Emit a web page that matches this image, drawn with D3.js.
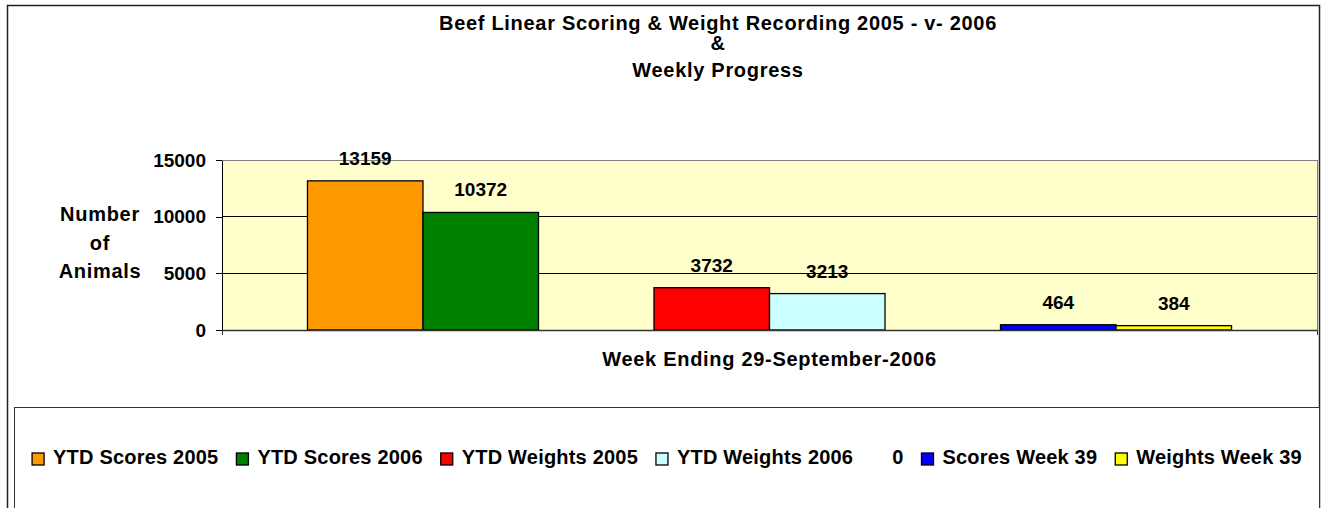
<!DOCTYPE html>
<html lang="en">
<head>
<meta charset="UTF-8">
<title>Beef Linear Scoring &amp; Weight Recording 2005 - v- 2006</title>
<script src="https://d3js.org/d3.v7.min.js"></script>
<style>
  body { margin: 0; background: #fff; }
  svg { display: block; font-family: 'Liberation Sans', Arial, sans-serif; font-weight: bold; font-size: 19px; }
  .spaced { font-size: 20px; letter-spacing: 0.7px; }
</style>
</head>
<body>
<svg id="chart" width="1324" height="508"></svg>
<script>
  // one category, eight series slots (a blank one and "0" are empty)
  const seriesNames = ['YTD Scores 2005', 'YTD Scores 2006', '', 'YTD Weights 2005', 'YTD Weights 2006', '0', 'Scores Week 39', 'Weights Week 39'];
  const seriesValues = [13159, 10372, null, 3732, 3213, null, 464, 384];
  const seriesColors = ['#ff9900', '#008000', 'none', '#ff0000', '#ccffff', 'none', '#0000ff', '#ffff00'];
  const yTicks = [0, 5000, 10000, 15000];
  const titleLines = ['Beef Linear Scoring & Weight Recording 2005 - v- 2006', '&', 'Weekly Progress'];
  const yTitleLines = ['Number', 'of', 'Animals'];
  const xTitle = 'Week Ending 29-September-2006';

  const svg = d3.select('#chart');
  const plot = { left: 222, right: 1317, top: 160, bottom: 330 };

  // outer chart frame
  svg.append('rect')
    .attr('x', 7.5).attr('y', 5.5)
    .attr('width', 1312).attr('height', 600)
    .attr('fill', '#fff').attr('stroke', '#222').attr('stroke-width', 1.5);

  const x = d3.scaleBand()
    .domain(d3.range(seriesNames.length))
    .range([plot.left, plot.right])
    .paddingInner(0)
    .paddingOuter(0.74);

  const y = d3.scaleLinear()
    .domain([0, 15000])
    .range([plot.bottom, plot.top]);

  // plot area background
  svg.append('rect')
    .attr('x', plot.left).attr('y', plot.top)
    .attr('width', plot.right - plot.left).attr('height', plot.bottom - plot.top)
    .attr('fill', '#ffffcc').attr('stroke', '#808080').attr('stroke-width', 1)
    .attr('shape-rendering', 'crispEdges');

  // gridlines
  svg.append('g')
    .selectAll('line')
    .data(yTicks.filter(t => t > 0 && t < 15000))
    .enter().append('line')
    .attr('x1', plot.left).attr('x2', plot.right)
    .attr('y1', d => y(d)).attr('y2', d => y(d))
    .attr('stroke', '#000').attr('shape-rendering', 'crispEdges');

  // y axis
  const yAxis = svg.append('g')
    .attr('transform', 'translate(' + plot.left + ',0)')
    .call(d3.axisLeft(y).tickValues(yTicks).tickFormat(d3.format('d'))
      .tickSize(6).tickSizeOuter(0).tickPadding(10));
  yAxis.select('.domain').attr('stroke', '#000').attr('shape-rendering', 'crispEdges');
  yAxis.selectAll('.tick line').attr('stroke', '#000').attr('shape-rendering', 'crispEdges');
  yAxis.selectAll('.tick text')
    .attr('fill', '#000')
    .style('font-size', '19px')
    .style('font-family', "'Liberation Sans', Arial, sans-serif")
    .style('font-weight', 'bold');

  // bars
  const bars = seriesValues.map((v, i) => ({ i, v, name: seriesNames[i], color: seriesColors[i] }))
    .filter(d => d.v !== null);

  svg.append('g')
    .selectAll('rect')
    .data(bars)
    .enter().append('rect')
    .attr('x', d => x(d.i))
    .attr('width', x.bandwidth())
    .attr('y', d => y(d.v))
    .attr('height', d => y(0) - y(d.v))
    .attr('fill', d => d.color)
    .attr('stroke', '#000')
    .attr('stroke-width', 1.3);

  // value labels
  svg.append('g')
    .selectAll('text')
    .data(bars)
    .enter().append('text')
    .attr('x', d => x(d.i) + x.bandwidth() / 2)
    .attr('y', d => y(d.v) - 16)
    .attr('text-anchor', 'middle')
    .text(d => d.v);

  // category axis with end ticks
  const xEdge = d3.scaleLinear().domain([0, 1]).range([plot.left, plot.right]);
  const xAxis = svg.append('g')
    .attr('transform', 'translate(0,' + plot.bottom + ')')
    .call(d3.axisBottom(xEdge).tickValues([0, 1]).tickFormat('').tickSize(5).tickSizeOuter(0));
  xAxis.select('.domain').attr('stroke', '#333').attr('stroke-width', 1.5);
  xAxis.selectAll('.tick line').attr('stroke', '#333');

  // titles
  const titleY = [30, 50, 77];
  svg.append('g')
    .selectAll('text')
    .data(titleLines)
    .enter().append('text')
    .attr('class', 'spaced')
    .attr('x', 718)
    .attr('y', (d, i) => titleY[i])
    .attr('text-anchor', 'middle')
    .text(d => d);

  svg.append('text')
    .attr('class', 'spaced')
    .attr('x', (plot.left + plot.right) / 2)
    .attr('y', 366)
    .attr('text-anchor', 'middle')
    .text(xTitle);

  svg.append('g')
    .selectAll('text')
    .data(yTitleLines)
    .enter().append('text')
    .attr('class', 'spaced')
    .attr('x', 100)
    .attr('y', (d, i) => 221 + i * 28.5)
    .attr('text-anchor', 'middle')
    .text(d => d);

  // legend box
  svg.append('rect')
    .attr('x', 14.5).attr('y', 407.5)
    .attr('width', 1305).attr('height', 200)
    .attr('fill', '#fff').attr('stroke', '#333').attr('stroke-width', 1);

  const legendItems = seriesNames.map((name, i) => ({ name, color: seriesColors[i] }))
    .filter(d => d.name !== '');

  const legend = svg.append('g');
  const items = legend.selectAll('g')
    .data(legendItems)
    .enter().append('g');

  items.append('rect')
    .attr('width', 12).attr('height', 12)
    .attr('y', 453)
    .attr('fill', d => d.color)
    .attr('stroke', d => d.color === 'none' ? 'none' : '#000')
    .attr('stroke-width', 1.3);

  items.append('text')
    .attr('x', 21)
    .attr('y', 464)
    .style('font-size', '20px')
    .style('letter-spacing', '0.2px')
    .text(d => d.name);

  let cursor = 0;
  items.each(function () {
    const w = 21 + d3.select(this).select('text').node().getComputedTextLength();
    d3.select(this).attr('transform', 'translate(' + cursor + ',0)');
    cursor += w + 18;
  });
  const totalW = cursor - 18;
  legend.attr('transform', 'translate(' + (667 - totalW / 2) + ',0)');
</script>
</body>
</html>
